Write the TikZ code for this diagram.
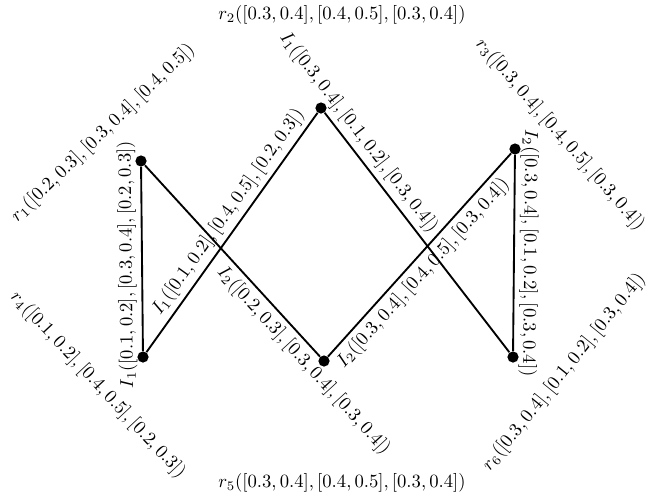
\documentclass[tikz,border=0pt]{standalone}
\usepackage{amsmath, amssymb}
\usepackage{tikz}

\begin{document}
\begin{tikzpicture}[x=0.535pt, y=-0.535pt,
        vertex/.style={circle, fill=black, inner sep=0pt, minimum size=6pt},
        edge/.style={line width=1pt},
        elabel/.style={sloped, allow upside down, inner sep=2.5pt}
    ]
    \useasboundingbox (0,0) rectangle (649,498);

    % Vertices
    \node[vertex] (r1) at (141,161) {};
    \node[vertex] (r2) at (321,108) {};
    \node[vertex] (r3) at (515,149) {};
    \node[vertex] (r4) at (143,357) {};
    \node[vertex] (r5) at (324,361) {};
    \node[vertex] (r6) at (513,357) {};

    % Vertex labels
    \node[rotate=44] (lab1) at (103,133) {$r_1([0.2,0.3],[0.3,0.4],[0.4,0.5])$};
    \node (lab2) at (342,15) {$r_2([0.3,0.4],[0.4,0.5],[0.3,0.4])$};
    \node[rotate=-49] (lab3) at (560,135) {$r_3([0.3,0.4],[0.4,0.5],[0.3,0.4])$};
    \node[rotate=-47] (lab4) at (98,385) {$r_4([0.1,0.2],[0.4,0.5],[0.2,0.3])$};
    \node (lab5) at (342,483) {$r_5([0.3,0.4],[0.4,0.5],[0.3,0.4])$};
    \node[rotate=51] (lab6) at (564,372) {$r_6([0.3,0.4],[0.1,0.2],[0.3,0.4])$};

    % Edges
    \draw[edge] (r4) -- node[elabel, above, pos=0.47] (e14) {$I_1([0.1,0.2],[0.3,0.4],[0.2,0.3])$} (r1);
    \draw[edge] (r1) -- node[elabel, below, pos=0.97] (e15) {$I_2([0.2,0.3],[0.3,0.4],[0.3,0.4])$} (r5);
    \draw[edge] (r4) -- node[elabel, above, pos=0.55] (e42) {$I_1([0.1,0.2],[0.4,0.5],[0.2,0.3])$} (r2);
    \draw[edge] (r2) -- node[elabel, above, pos=0.12] (e26) {$I_1([0.3,0.4],[0.1,0.2],[0.3,0.4])$} (r6);
    \draw[edge] (r5) -- node[elabel, below, pos=0.46] (e53) {$I_2([0.3,0.4],[0.4,0.5],[0.3,0.4])$} (r3);
    \draw[edge] (r3) -- node[elabel, above, pos=0.5] (e36) {$I_2([0.3,0.4],[0.1,0.2],[0.3,0.4])$} (r6);

\end{tikzpicture}
\end{document}
